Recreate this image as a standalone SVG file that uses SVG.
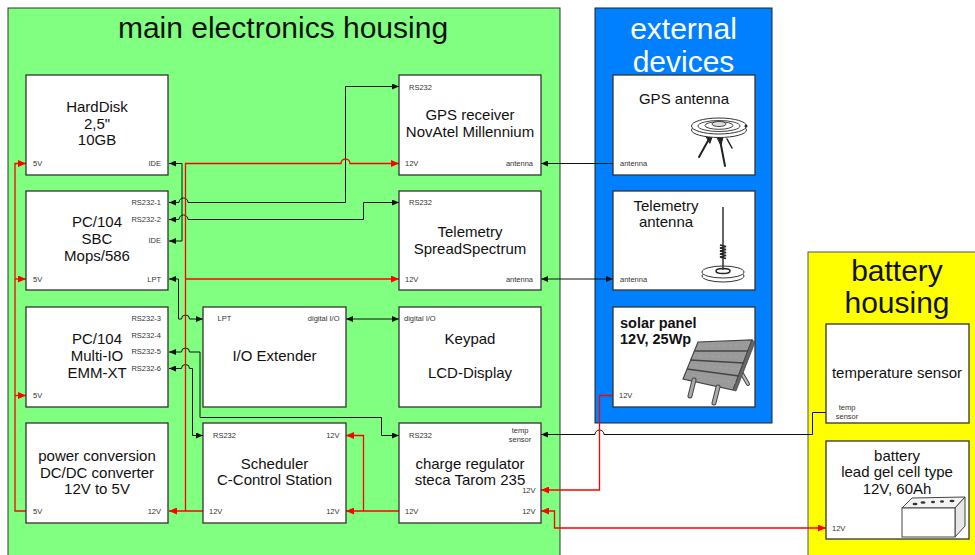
<svg xmlns="http://www.w3.org/2000/svg" width="975" height="555" viewBox="0 0 975 555">
  <style>
    .hdr{font-family:"Liberation Sans",Arial,sans-serif;font-size:30px;text-anchor:middle}
    .box{fill:#fff;stroke:#333;stroke-width:1.3}
    .t{font-family:"Liberation Sans",Arial,sans-serif;font-size:15px;fill:#111;text-anchor:middle}
    .tb{font-family:"Liberation Sans",Arial,sans-serif;font-size:14.5px;font-weight:bold;fill:#111;text-anchor:start}
    .p{font-family:"Liberation Sans",Arial,sans-serif;font-size:7.5px;fill:#333}
    .e{text-anchor:end}
    .m{text-anchor:middle}
    .bl{fill:none;stroke:#111;stroke-width:1}
    .rd{fill:none;stroke:#f00;stroke-width:1.3}
    .icon{stroke:#333;stroke-width:1;fill:#fff}
  </style>
  <defs>
    <marker id="ab" viewBox="0 0 7 6" refX="7" refY="3" markerWidth="7" markerHeight="6" markerUnits="userSpaceOnUse" orient="auto-start-reverse">
      <path d="M0,0 L7,3 L0,6 z" fill="#111"/>
    </marker>
    <marker id="ar" viewBox="0 0 8 7" refX="8" refY="3.5" markerWidth="8" markerHeight="7" markerUnits="userSpaceOnUse" orient="auto-start-reverse">
      <path d="M0,0 L8,3.5 L0,7 z" fill="#f00"/>
    </marker>
  </defs>

  <!-- housings -->
  <g id="main-housing">
    <rect x="8" y="8" width="552" height="560" fill="#80ff80" stroke="#333" stroke-width="1"/>
    <text class="hdr" x="283" y="38" fill="#111">main electronics housing</text>
  </g>
  <g id="external-devices">
    <rect x="595" y="8" width="177" height="415" fill="#0080ff" stroke="#222" stroke-width="1"/>
    <text class="hdr" x="683.5" y="39" fill="#fff">external</text>
    <text class="hdr" x="683.5" y="72" fill="#fff">devices</text>
  </g>
  <g id="battery-housing">
    <rect x="808" y="252" width="180" height="320" fill="#ffff00" stroke="#555" stroke-width="1"/>
    <text class="hdr" x="897" y="281" fill="#111">battery</text>
    <text class="hdr" x="897" y="313" fill="#111">housing</text>
  </g>

  <!-- connectors -->
  <g id="connectors">
    <!-- data lines -->
    <path class="bl" d="M169,163.5 H182 V241 H169" marker-start="url(#ab)" marker-end="url(#ab)"/>
    <path class="bl" d="M169,202.5 H179 a4.5,4.5 0 0,1 9,0 H345.5 V86.5 H399" marker-start="url(#ab)" marker-end="url(#ab)"/>
    <path class="bl" d="M169,219.5 H179 a4.5,4.5 0 0,1 9,0 H363.5 V202.5 H399" marker-start="url(#ab)" marker-end="url(#ab)"/>
    <path class="bl" d="M169,279 H178.5 V319 H181.5 a4,4 0 0,1 8,0 H203" marker-start="url(#ab)" marker-end="url(#ab)"/>
    <path class="bl" d="M169,352 H181.5 a4,4 0 0,1 8,0 H200 V417.5 H381.5 V435.5 H399" marker-start="url(#ab)" marker-end="url(#ab)"/>
    <path class="bl" d="M169,368.5 H181.5 a4,4 0 0,1 8,0 H192.5 V435.5 H203" marker-start="url(#ab)" marker-end="url(#ab)"/>
    <path class="bl" d="M346,319 H399" marker-start="url(#ab)" marker-end="url(#ab)"/>
    <path class="bl" d="M613,163.5 H541" marker-end="url(#ab)"/>
    <path class="bl" d="M613,279 H541" marker-start="url(#ab)" marker-end="url(#ab)"/>
    <path class="bl" d="M826,412.5 H812.5 V434.5 H604 a4.5,4.5 0 0,0 -9,0 H541" marker-end="url(#ab)"/>
    <!-- power lines -->
    <path class="rd" d="M613,395.5 H599.5 V490 H541" marker-end="url(#ar)"/>
    <path class="rd" d="M541,511 H554.5 V528 H826" marker-start="url(#ar)" marker-end="url(#ar)"/>
    <path class="rd" d="M399,511 H346" marker-end="url(#ar)"/>
    <path class="rd" d="M363.5,511 V435.5 H346" marker-end="url(#ar)"/>
    <path class="rd" d="M203,511 H169" marker-end="url(#ar)"/>
    <path class="rd" d="M185.5,511 V163.5 H341 a4.5,4.5 0 0,1 9,0 H399" marker-end="url(#ar)"/>
    <path class="rd" d="M185.5,279 H399" marker-end="url(#ar)"/>
    <path class="rd" d="M26,511 H15 V163.5 H26" marker-end="url(#ar)"/>
    <path class="rd" d="M15,279 H26" marker-end="url(#ar)"/>
    <path class="rd" d="M15,395.5 H26" marker-end="url(#ar)"/>
  </g>

  <!-- main electronics nodes -->
  <g id="harddisk">
    <rect class="box" x="26" y="75" width="142" height="100"/>
    <text class="t" x="97" y="112">HardDisk</text>
    <text class="t" x="97" y="128.5">2,5"</text>
    <text class="t" x="97" y="145">10GB</text>
    <text class="p" x="33" y="166">5V</text>
    <text class="p e" x="161" y="166">IDE</text>
  </g>
  <g id="sbc">
    <rect class="box" x="26" y="191" width="142" height="99"/>
    <text class="t" x="97" y="227">PC/104</text>
    <text class="t" x="97" y="244">SBC</text>
    <text class="t" x="97" y="261">Mops/586</text>
    <text class="p e" x="161" y="205">RS232-1</text>
    <text class="p e" x="161" y="222">RS232-2</text>
    <text class="p e" x="161" y="243">IDE</text>
    <text class="p" x="33" y="281.5">5V</text>
    <text class="p e" x="161" y="281.5">LPT</text>
  </g>
  <g id="multi-io">
    <rect class="box" x="26" y="307" width="142" height="100"/>
    <text class="t" x="97" y="344">PC/104</text>
    <text class="t" x="97" y="361">Multi-IO</text>
    <text class="t" x="97" y="378">EMM-XT</text>
    <text class="p e" x="161" y="321">RS232-3</text>
    <text class="p e" x="161" y="338">RS232-4</text>
    <text class="p e" x="161" y="354">RS232-5</text>
    <text class="p e" x="161" y="371">RS232-6</text>
    <text class="p" x="33" y="398">5V</text>
  </g>
  <g id="power-conversion">
    <rect class="box" x="26" y="423" width="142" height="100"/>
    <text class="t" x="97" y="461">power conversion</text>
    <text class="t" x="97" y="477.5">DC/DC converter</text>
    <text class="t" x="97" y="494">12V to 5V</text>
    <text class="p" x="33" y="513.5">5V</text>
    <text class="p e" x="161" y="513.5">12V</text>
  </g>
  <g id="io-extender">
    <rect class="box" x="203" y="307" width="143" height="100"/>
    <text class="t" x="274.5" y="361">I/O Extender</text>
    <text class="p" x="217.5" y="321">LPT</text>
    <text class="p e" x="339.5" y="321">digital I/O</text>
  </g>
  <g id="scheduler">
    <rect class="box" x="203" y="423" width="143" height="100"/>
    <text class="t" x="274.5" y="468.5">Scheduler</text>
    <text class="t" x="274.5" y="485">C-Control Station</text>
    <text class="p" x="213" y="437.5">RS232</text>
    <text class="p e" x="339.5" y="437.5">12V</text>
    <text class="p" x="209" y="513.5">12V</text>
    <text class="p e" x="339.5" y="513.5">12V</text>
  </g>
  <g id="gps-receiver">
    <rect class="box" x="399" y="75" width="142" height="100"/>
    <text class="t" x="470" y="120">GPS receiver</text>
    <text class="t" x="470" y="137">NovAtel Millennium</text>
    <text class="p" x="409" y="89.5">RS232</text>
    <text class="p" x="405" y="166">12V</text>
    <text class="p e" x="533" y="166">antenna</text>
  </g>
  <g id="telemetry">
    <rect class="box" x="399" y="191" width="142" height="99"/>
    <text class="t" x="470" y="236.5">Telemetry</text>
    <text class="t" x="470" y="253.5">SpreadSpectrum</text>
    <text class="p" x="409" y="205">RS232</text>
    <text class="p" x="405" y="281.5">12V</text>
    <text class="p e" x="533" y="281.5">antenna</text>
  </g>
  <g id="keypad">
    <rect class="box" x="399" y="307" width="142" height="100"/>
    <text class="t" x="470" y="344">Keypad</text>
    <text class="t" x="470" y="378">LCD-Display</text>
    <text class="p" x="404" y="321">digital I/O</text>
  </g>
  <g id="charge-regulator">
    <rect class="box" x="399" y="423" width="142" height="100"/>
    <text class="t" x="470" y="468.5">charge regulator</text>
    <text class="t" x="470" y="485">steca Tarom 235</text>
    <text class="p" x="409" y="437.5">RS232</text>
    <text class="p m" x="520" y="432.5">temp</text>
    <text class="p m" x="520" y="441.5">sensor</text>
    <text class="p e" x="535.5" y="492.5">12V</text>
    <text class="p" x="405" y="513.5">12V</text>
    <text class="p e" x="535.5" y="513.5">12V</text>
  </g>

  <!-- external devices -->
  <g id="gps-antenna">
    <rect class="box" x="613" y="75" width="142" height="100"/>
    <text class="t" x="684" y="103.5">GPS antenna</text>
    <text class="p" x="620" y="166">antenna</text>
    <!-- antenna drawing: legs under a ringed disk -->
    <g stroke="#222" stroke-linecap="round">
      <line x1="709" y1="139" x2="699" y2="157" stroke-width="2"/>
      <line x1="720" y1="140" x2="725" y2="166" stroke-width="2"/>
      <line x1="727" y1="139" x2="732" y2="148" stroke-width="1.5"/>
      <path d="M706,136 l6,1 l-2,6 z" fill="#222"/>
      <path d="M717,137 l6,0 l-2,8 z" fill="#222"/>
    </g>
    <ellipse cx="719" cy="130" rx="27.5" ry="7.5" class="icon"/>
    <ellipse cx="719" cy="126" rx="27.5" ry="8" class="icon" stroke-width="1.3"/>
    <ellipse cx="719" cy="126" rx="21" ry="5.5" fill="none" stroke="#444"/>
    <ellipse cx="719" cy="125.5" rx="14" ry="3.8" fill="none" stroke="#444"/>
    <ellipse cx="719" cy="124" rx="7" ry="2.5" fill="#ddd" stroke="#444"/>
    <circle cx="746" cy="126" r="1.5" fill="#222"/>
  </g>
  <g id="telemetry-antenna">
    <rect class="box" x="613" y="191" width="142" height="99"/>
    <text class="t" x="666" y="211">Telemetry</text>
    <text class="t" x="666" y="227">antenna</text>
    <text class="p" x="620" y="281.5">antenna</text>
    <!-- whip antenna on a magnetic base -->
    <ellipse cx="723" cy="276" rx="21" ry="6" class="icon" stroke-width="1.3"/>
    <ellipse cx="723" cy="272" rx="21" ry="6" class="icon" stroke-width="1.3"/>
    <ellipse cx="723" cy="271" rx="7" ry="2.5" fill="#fff" stroke="#222" stroke-width="1.5"/>
    <line x1="723" y1="207" x2="723" y2="270" stroke="#333" stroke-width="1.5"/>
    <path d="M720,245 l6,1.5 l-6,1.5 l6,1.5 l-6,1.5 l6,1.5 l-6,1.5 l6,1.5 l-6,1.5 l6,1.5" fill="none" stroke="#222" stroke-width="1.6"/>
  </g>
  <g id="solar-panel">
    <rect class="box" x="613" y="307" width="142" height="100"/>
    <text class="tb" x="620" y="327.5">solar panel</text>
    <text class="tb" x="620" y="344">12V, 25Wp</text>
    <text class="p" x="619" y="398">12V</text>
    <!-- panel on a stand -->
    <g stroke-linecap="round">
      <line x1="741" y1="372" x2="748" y2="384" stroke="#444" stroke-width="4"/>
      <line x1="741" y1="372" x2="748" y2="384" stroke="#bbb" stroke-width="2"/>
    </g>
    <path d="M698,342 L752,340 L733,390 L683,379 Z" fill="#9a9a9a" stroke="#444" stroke-width="1.2"/>
    <path d="M752,340 L755,342 L736,391 L733,390 Z" fill="#666" stroke="#444" stroke-width="0.8"/>
    <g stroke="#444" stroke-width="1.3">
      <line x1="694" y1="351" x2="748" y2="351"/>
      <line x1="690" y1="360" x2="744" y2="363"/>
      <line x1="687" y1="369" x2="739" y2="376"/>
    </g>
    <g stroke="#aaa" stroke-width="0.6" stroke-dasharray="3,3">
      <line x1="699" y1="346" x2="749" y2="345"/>
      <line x1="693" y1="356" x2="745" y2="357"/>
      <line x1="689" y1="365" x2="741" y2="369"/>
      <line x1="686" y1="374" x2="736" y2="383"/>
    </g>
    <g stroke-linecap="round">
      <line x1="694" y1="380" x2="690" y2="396" stroke="#444" stroke-width="5"/>
      <line x1="694" y1="380" x2="690" y2="396" stroke="#aaa" stroke-width="3"/>
      <line x1="718" y1="387" x2="714" y2="403" stroke="#444" stroke-width="5"/>
      <line x1="718" y1="387" x2="714" y2="403" stroke="#aaa" stroke-width="3"/>
    </g>
  </g>

  <!-- battery housing -->
  <g id="temperature-sensor">
    <rect class="box" x="826" y="324" width="143" height="99"/>
    <text class="t" x="897" y="378">temperature sensor</text>
    <text class="p m" x="847" y="410">temp</text>
    <text class="p m" x="847" y="418.5">sensor</text>
  </g>
  <g id="battery">
    <rect class="box" x="826" y="441" width="143" height="98"/>
    <text class="t" x="897" y="461">battery</text>
    <text class="t" x="897" y="477">lead gel cell type</text>
    <text class="t" x="897" y="493.5">12V, 60Ah</text>
    <text class="p" x="832" y="530.5">12V</text>
    <!-- battery block -->
    <path d="M902,508 L912,498 L965,497 L955,508 Z" fill="#f4f4f4" stroke="#444" stroke-width="1"/>
    <path d="M955,508 L965,497 L965,526 L955,537 Z" fill="#e6e6e6" stroke="#444" stroke-width="1"/>
    <rect x="902" y="508" width="53" height="29" fill="#fff" stroke="#444" stroke-width="1"/>
    <g fill="#333">
      <ellipse cx="915" cy="504" rx="2.5" ry="1.3"/>
      <ellipse cx="923" cy="502.5" rx="2.5" ry="1.3"/>
      <ellipse cx="933" cy="502" rx="2" ry="1.2"/>
      <ellipse cx="942" cy="501.5" rx="2" ry="1.2"/>
      <ellipse cx="952" cy="501" rx="2.5" ry="1.3"/>
    </g>
  </g>
</svg>
